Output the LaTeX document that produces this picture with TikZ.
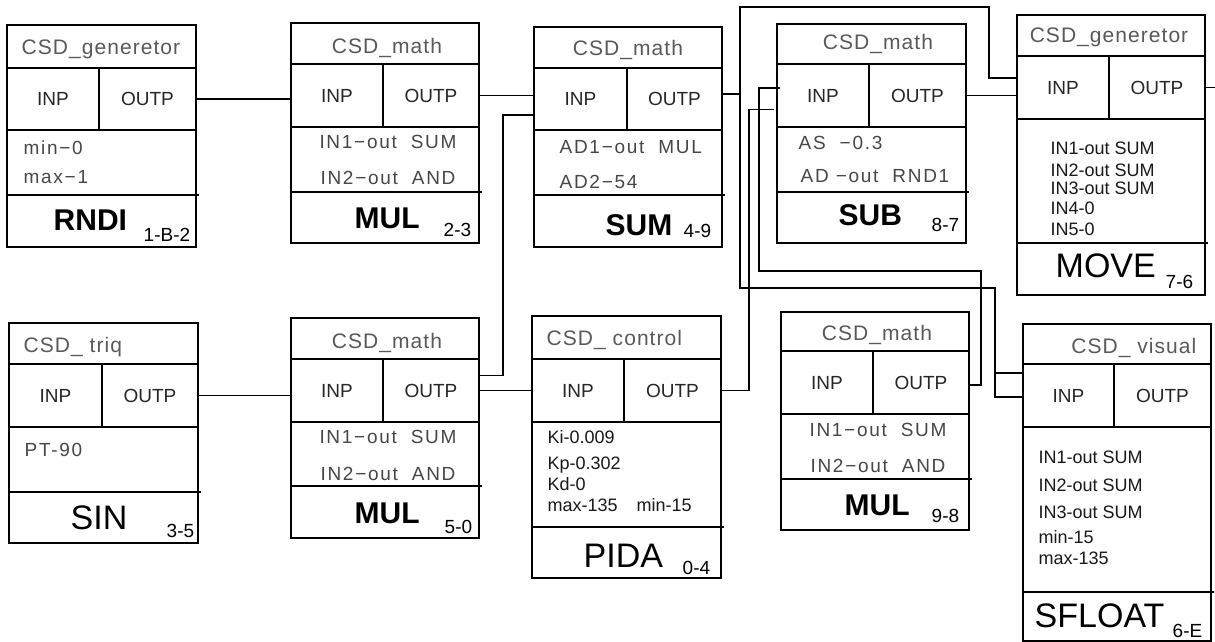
\documentclass[tikz,border=0pt]{standalone}
\usepackage{fontspec}
\setmainfont{Liberation Sans}
\newfontfamily\widefont[LetterSpace=5]{Liberation Sans}
\newfontfamily\parfont[LetterSpace=9]{Liberation Sans}
\tikzset{
  every picture/.style={line width=1.4pt},
  cell/.style={draw, inner sep=0pt, outer sep=0pt, anchor=north west, font=\fontsize{19}{22}\selectfont, text=black!85},
  wire/.style={draw, line width=1.4pt},
  ttl/.style={font=\widefont\fontsize{21}{24}\selectfont, text=black!65, anchor=base, inner sep=0pt},
  par/.style={font=\parfont\fontsize{19}{22}\selectfont, text=black!72, anchor=base west, inner sep=0pt},
  small/.style={font=\fontsize{18}{20}\selectfont, text=black!90, anchor=base west, inner sep=0pt},
  nmb/.style={font=\fontsize{30}{34}\selectfont\bfseries, anchor=base west, inner sep=0pt},
  nmr/.style={font=\fontsize{34}{38}\selectfont, anchor=base west, inner sep=0pt},
  code/.style={font=\fontsize{19}{22}\selectfont, anchor=base west, inner sep=0pt},
}
% id, x0, y0, x1, y1, title bottom, port row bottom, port divider, params bottom
\newcommand{\csdblock}[9]{%
  \node[cell, minimum width={(#4-#2)*1pt}, minimum height={(#6-#3)*1pt}] (#1-head) at (#2,#3) {};
  \node[cell, minimum width={(#8-#2)*1pt}, minimum height={(#7-#6)*1pt}] (#1-inp) at (#2,#6) {INP};
  \node[cell, minimum width={(#4-#8)*1pt}, minimum height={(#7-#6)*1pt}] (#1-outp) at (#8,#6) {OUTP};
  \node[cell, minimum width={(#4-#2)*1pt}, minimum height={(#9-#7)*1pt}] (#1-par) at (#2,#7) {};
  \node[cell, minimum width={(#4-#2)*1pt}, minimum height={(#5-#9)*1pt}] (#1-name) at (#2,#9) {};
  \draw (#1-name.north east) -- ++(3pt,0pt);
}

\begin{document}
\begin{tikzpicture}[x=1pt, y=-1pt]
  \path[fill=white, use as bounding box] (0,0) rectangle (1215,642);
  % blocks
  \csdblock{rndi}{7}{25}{196}{247}{68}{130}{99}{195}
  \csdblock{mula}{291}{23}{479}{243}{64}{127}{383}{192}
  \csdblock{sum}{534}{27}{722}{247}{68}{130}{627}{195}
  \csdblock{sub}{777}{24}{966}{243}{64}{127}{869}{192}
  \csdblock{move}{1017}{15}{1205}{295}{56}{119}{1109}{243}
  \csdblock{sin}{9}{323}{198}{543}{364}{427}{102}{492}
  \csdblock{mulb}{291}{318}{479}{538}{359}{422}{383}{486}
  \csdblock{pida}{532}{316}{721}{578}{359}{422}{624}{527}
  \csdblock{mulc}{781}{312}{969}{530}{351}{414}{873}{479}
  \csdblock{sfloat}{1023}{324}{1211}{641}{364}{427}{1114}{592}
  % titles
  \node[ttl] (rndi-ttl) at (101,55) {CSD\_generetor};
  \node[ttl] (mula-ttl) at (387,53) {CSD\_math};
  \node[ttl] (sum-ttl) at (628,56) {CSD\_math};
  \node[ttl] (sub-ttl) at (878,50) {CSD\_math};
  \node[ttl] (move-ttl) at (1109,43) {CSD\_generetor};
  \node[ttl, anchor=base west] (sin-ttl) at (23,352) {CSD\_ triq};
  \node[ttl] (mulb-ttl) at (387,348) {CSD\_math};
  \node[ttl, anchor=base west] (pida-ttl) at (546,345) {CSD\_ control};
  \node[ttl] (mulc-ttl) at (877,340) {CSD\_math};
  \node[ttl, anchor=base east] (sfloat-ttl) at (1197,353) {CSD\_ visual};
  % parameters
  \node[par] (rndi-p1) at (23,154) {min−0};
  \node[par] (rndi-p2) at (23,183) {max−1};
  \node[par, anchor=base] (mula-p1) at (388,148) {IN1−out~ SUM};
  \node[par, anchor=base] (mula-p2) at (388,184) {IN2−out~ AND};
  \node[par] (sum-p1) at (559,153) {AD1−out~ MUL};
  \node[par] (sum-p2) at (559,188) {AD2−54};
  \node[par] (sub-p1) at (798,149) {AS~ −0.3};
  \node[par] (sub-p2) at (800,182) {AD −out~ RND1};
  \node[par] (sin-p1) at (24,456) {PT-90};
  \node[par, anchor=base] (mulb-p1) at (388,443) {IN1−out~ SUM};
  \node[par, anchor=base] (mulb-p2) at (388,480) {IN2−out~ AND};
  \node[par, anchor=base] (mulc-p1) at (878,436) {IN1−out~ SUM};
  \node[par, anchor=base] (mulc-p2) at (878,472) {IN2−out~ AND};
  \foreach \txt/\yy [count=\i] in {Ki-0.009/443, Kp-0.302/469, Kd-0/490, max-135\hspace{19pt}min-15/511}
    \node[small] (pida-p\i) at (547,\yy) {\txt};
  \foreach \txt/\yy [count=\i] in {IN1-out SUM/154, IN2-out SUM/176, IN3-out SUM/194, IN4-0/214, IN5-0/235}
    \node[small] (move-p\i) at (1050,\yy) {\txt};
  \foreach \txt/\yy [count=\i] in {IN1-out SUM/463, IN2-out SUM/491, IN3-out SUM/518, min-15/543, max-135/564}
    \node[small] (sfloat-p\i) at (1038,\yy) {\txt};
  % names
  \node[nmb] (rndi-n) at (53,230) {RNDI};   \node[code] (rndi-c) at (143,241) {1-B-2};
  \node[nmb] (mula-n) at (354,228) {MUL};   \node[code] (mula-c) at (443,236) {2-3};
  \node[nmb] (sum-n) at (605,235) {SUM};    \node[code] (sum-c) at (683,237) {4-9};
  \node[nmb] (sub-n) at (838,225) {SUB};    \node[code] (sub-c) at (931,231) {8-7};
  \node[nmr] (move-n) at (1055,277) {MOVE}; \node[code] (move-c) at (1165,288) {7-6};
  \node[nmr] (sin-n) at (70,529) {SIN};     \node[code] (sin-c) at (166,537) {3-5};
  \node[nmb] (mulb-n) at (354,523) {MUL};   \node[code] (mulb-c) at (444,533) {5-0};
  \node[nmr] (pida-n) at (583,567) {PIDA};  \node[code] (pida-c) at (682,574) {0-4};
  \node[nmb] (mulc-n) at (844,515) {MUL};   \node[code] (mulc-c) at (931,522) {9-8};
  \node[nmr] (sfloat-n) at (1034,627) {SFLOAT}; \node[code] (sfloat-c) at (1172,637) {6-E};
  % connections
  \draw[wire] (rndi-outp.east) -- (rndi-outp.east -| mula-inp.west);
  \draw[wire] (mula-outp.east) -- (mula-outp.east -| sum-inp.west);
  \draw[wire] (sin-outp.east) -- (sin-outp.east -| mulb-inp.west);
  \draw[wire] (mulb-outp.east) -- (mulb-outp.east -| pida-inp.west);
  \draw[wire] ([yshift=15pt]mulb-outp.east) -- ++(24pt,0pt) |- ([yshift=-16pt]sum-inp.west);
  \draw[wire] (pida-outp.east) -- ++(28pt,0pt) |- ([xshift=-3pt,yshift=-14pt]sub-inp.west);
  \draw[wire] (sub-outp.east) -- (sub-outp.east -| move-inp.west);
  \draw[wire] ([yshift=5pt]sum-outp.east) -- ++(18pt,0pt) coordinate (split);
  \draw[wire] (split) -- ++(0pt,87pt) -| ([xshift=-28pt,yshift=9.5pt]move-inp.west) -- ([yshift=9.5pt]move-inp.west);
  \draw[wire] (split) -- ++(0pt,-194pt) -| ([xshift=-28pt,yshift=-1.5pt]sfloat-inp.west) -- ([yshift=-1.5pt]sfloat-inp.west);
  \draw[wire] ([xshift=-28pt,yshift=22.5pt]sfloat-inp.west) -- ([yshift=22.5pt]sfloat-inp.west);
  \draw[wire] ([yshift=-2.5pt]mulc-outp.east) -- ++(12pt,0pt) -- ++(0pt,114pt) -| ([xshift=-18pt,yshift=7.5pt]sub-inp.west) -- ([xshift=3pt,yshift=7.5pt]sub-inp.west);
  \coordinate (move-out) at ([xshift=10pt]move-outp.east);
  \draw[wire] (move-outp.east) -- (move-out);
\end{tikzpicture}
\end{document}
